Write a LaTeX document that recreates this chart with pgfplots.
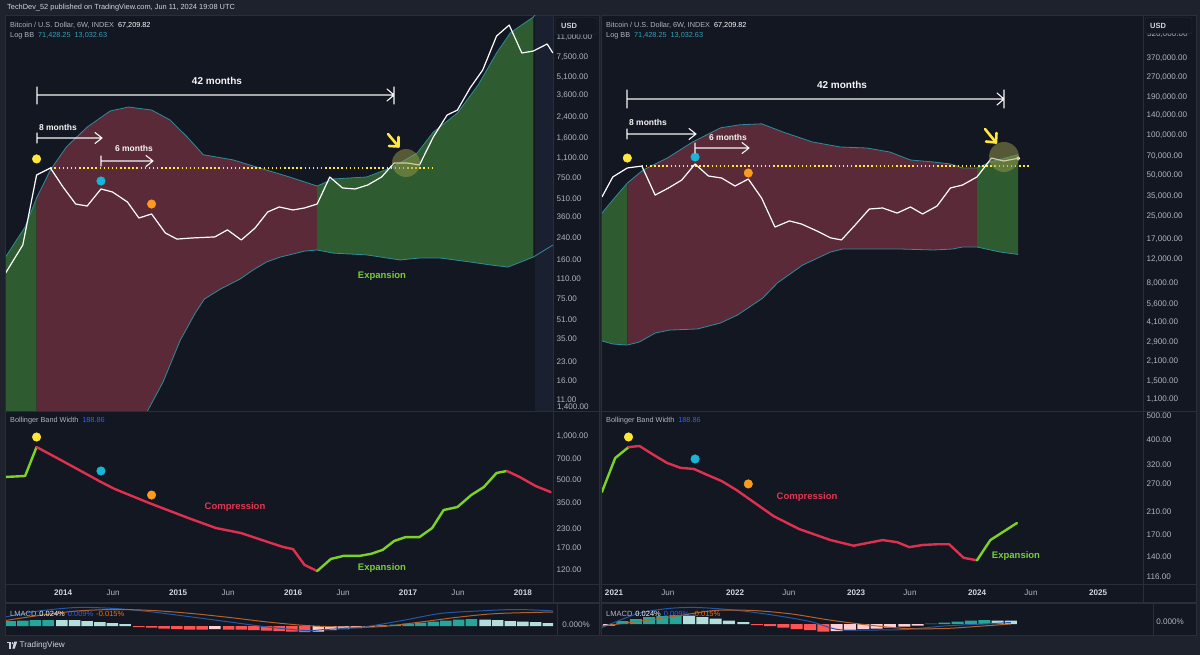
\documentclass[border=0pt]{standalone}
\usepackage{pgfplots}
\pgfplotsset{compat=1.18}
\usepackage{fontspec}
\setmainfont{Liberation Sans}

\definecolor{tvpage}{HTML}{1E222D}
\definecolor{tvbg}{HTML}{131722}
\definecolor{tvborder}{HTML}{2A2E39}
\definecolor{tvtext}{HTML}{B2B5BE}
\definecolor{tvwhite}{HTML}{D1D4DC}
\definecolor{tvteal}{HTML}{2AA3B8}
\definecolor{tvblue}{HTML}{2962FF}
\definecolor{tvorange}{HTML}{FF6D00}
\definecolor{bandline}{HTML}{2F8C9C}
\definecolor{greenfill}{HTML}{2E5B30}
\definecolor{redfill}{HTML}{5A2A38}
\definecolor{bbwgreen}{HTML}{7ED321}
\definecolor{bbwred}{HTML}{E0304F}
\definecolor{txtgreen}{HTML}{74CE3A}
\definecolor{txtred}{HTML}{E23650}
\definecolor{dotyellow}{HTML}{FFE83B}
\definecolor{dotcyan}{HTML}{17B5D6}
\definecolor{dotorange}{HTML}{FF9A1E}
\definecolor{hteal}{HTML}{26A69A}
\definecolor{hlteal}{HTML}{B2DFDB}
\definecolor{hred}{HTML}{FF5252}
\definecolor{hpink}{HTML}{FFCDD2}
\definecolor{macdblue}{HTML}{2358A8}
\definecolor{macdorange}{HTML}{B5622B}
\definecolor{circlefill}{HTML}{9A9A4A}
\definecolor{strip}{HTML}{1A2030}

\newcommand{\fs}[1]{\fontsize{#1}{#1}\selectfont}

\pgfplotsset{
  tv/.style={scale only axis, anchor=north west, axis line style={draw=none},
    major tick length=0pt, minor tick length=0pt, tick style={draw=none},
    xtick=\empty, clip=true, yticklabel pos=right,
    yticklabel style={anchor=west, inner sep=0pt, xshift=3.5pt, font={\fs{8.1}}, text=tvtext},
    xticklabel style={anchor=center, inner sep=0pt, yshift=-9pt, font={\fs{8.1}}, text=tvtext}},
  dot/.style={only marks, mark=*, mark size=4.3pt, #1, mark options={draw=none, fill=#1}},
  bbw/.style={#1, line width=2.4pt, line join=round, line cap=round},
  hist/.style={ybar, bar width=#1, bar shift=0pt, draw=none},
  area/.style={fill=#1, draw=none},
}

\begin{document}
\begin{tikzpicture}
\useasboundingbox (0,0) rectangle (1200pt,-655pt);
\fill[tvpage] (0,0) rectangle (1200pt,-655pt);
\begin{scope}[x=1pt,y=-1pt]
  \fill[tvbg] (5,15.5) rectangle (599,635);
  \fill[tvbg] (601,15.5) rectangle (1196,635);
  \fill[strip] (535,16) rectangle (553,411);
  \draw[tvborder, line width=1pt] (5,15.5) rectangle (599,635);
  \draw[tvborder, line width=1pt] (601,15.5) rectangle (1196,635);
  \foreach \y in {411.5,584,602.5,603.5} {
    \draw[tvborder, line width=1pt] (5,\y) -- (599,\y);
    \draw[tvborder, line width=1pt] (601,\y) -- (1196,\y);
  }
  \draw[tvborder, line width=1pt] (553.5,15.5) -- (553.5,602);
  \draw[tvborder, line width=1pt] (557.5,604) -- (557.5,635);
  \draw[tvborder, line width=1pt] (1143.5,15.5) -- (1143.5,602);
  \draw[tvborder, line width=1pt] (1153.5,604) -- (1153.5,635);
\end{scope}

% ---------------- left main pane (2013-2018) ----------------
\begin{axis}[tv, at={(6pt,-16pt)}, width=547pt, height=395pt,
  xmin=2013.504, xmax=2018.261, ymode=log, ymin=8.92, ymax=16400,
  ytick={11,16,23,35,51,75,110,160,240,360,510,750,1100,1600,2400,3600,5100,7500,11000},
  yticklabels={{11.00},{16.00},{23.00},{35.00},{51.00},{75.00},{110.00},{160.00},{240.00},{360.00},{510.00},{750.00},{1,100.00},{1,600.00},{2,400.00},{3,600.00},{5,100.00},{7,500.00},{11,000.00}}]
% band areas: upper band forward, lower band back
\addplot[area=greenfill] coordinates {
  (2013.50,167) (2013.67,296) (2013.77,514) (2013.77,0.3) (2013.50,0.3)};
\addplot[area=redfill] coordinates {
  (2013.77,514) (2013.89,875) (2014.03,1360) (2014.21,1980) (2014.41,2690) (2014.57,2900)
  (2014.77,2740) (2014.93,2270) (2015.08,1640) (2015.22,1170) (2015.48,1060) (2015.71,909)
  (2015.97,766) (2016.21,645)
  (2016.21,191) (2016.10,187) (2016.00,177) (2015.89,167) (2015.77,152) (2015.65,130)
  (2015.54,110) (2015.37,90.9) (2015.23,75.2) (2015.15,57.6) (2015.02,34.4) (2014.87,15.5)
  (2014.73,8.75) (2014.58,4.76) (2014.41,2.40) (2014.23,1.12) (2013.97,0.36) (2013.77,0.3)};
\addplot[area=greenfill] coordinates {
  (2016.21,645) (2016.35,738) (2016.64,766) (2016.87,927) (2017.08,1210) (2017.22,1800)
  (2017.43,2590) (2017.61,4410) (2017.77,8110) (2017.89,11900) (2018.09,16100)
  (2018.09,167) (2017.87,138) (2017.71,144) (2017.54,152) (2017.28,164) (2017.10,164)
  (2016.93,158) (2016.64,174) (2016.35,180) (2016.21,191)};
\addplot[bandline, line width=0.8pt] coordinates {
  (2013.50,167) (2013.67,296) (2013.77,514) (2013.89,875) (2014.03,1360) (2014.21,1980)
  (2014.41,2690) (2014.57,2900) (2014.77,2740) (2014.93,2270) (2015.08,1640) (2015.22,1170)
  (2015.48,1060) (2015.71,909) (2015.97,766) (2016.21,645) (2016.35,738) (2016.64,766)
  (2016.87,927) (2017.08,1210) (2017.22,1800) (2017.43,2590) (2017.61,4410) (2017.77,8110)
  (2017.89,11900) (2018.09,16100) (2018.26,25000)};
\addplot[bandline, line width=0.8pt] coordinates {
  (2013.50,0.3) (2013.77,0.3) (2013.97,0.36) (2014.23,1.12) (2014.41,2.40) (2014.58,4.76)
  (2014.73,8.75) (2014.87,15.5) (2015.02,34.4) (2015.15,57.6) (2015.23,75.2) (2015.37,90.9)
  (2015.54,110) (2015.65,130) (2015.77,152) (2015.89,167) (2016.00,177) (2016.10,187)
  (2016.21,191) (2016.35,180) (2016.64,174) (2016.93,158) (2017.10,164) (2017.28,164)
  (2017.54,152) (2017.71,144) (2017.87,138) (2018.09,167) (2018.26,210)};
\addplot[dotyellow, line width=1.5pt, dash pattern=on 1.5pt off 2.6pt] coordinates {(2013.89,909) (2017.22,909)};
\addplot[white, line width=1.2pt, line join=round] coordinates {
  (2013.50,123) (2013.65,210) (2013.77,796) (2013.89,909) (2014.00,633) (2014.11,458)
  (2014.21,441) (2014.33,610) (2014.43,576) (2014.56,476) (2014.66,351) (2014.77,379)
  (2014.89,264) (2014.99,235) (2015.12,240) (2015.32,245) (2015.43,280) (2015.55,231)
  (2015.67,290) (2015.78,394) (2015.88,433) (2016.00,409) (2016.10,425) (2016.21,458)
  (2016.32,766) (2016.43,622) (2016.54,610) (2016.65,658) (2016.77,766) (2016.88,1000)
  (2016.99,1000) (2017.10,963) (2017.22,1640) (2017.34,2490) (2017.43,2740) (2017.54,4170)
  (2017.65,5870) (2017.77,11200) (2017.88,13800) (2017.99,8110) (2018.09,8420) (2018.21,9630)
  (2018.26,8110)};
\addplot[dot=dotyellow] coordinates {(2013.77,1080)};
\addplot[dot=dotcyan] coordinates {(2014.33,710)};
\addplot[dot=dotorange] coordinates {(2014.77,458)};
\end{axis}

% ---------------- right main pane (2021-2025) ----------------
\begin{axis}[tv, at={(602pt,-16pt)}, width=541pt, height=395pt,
  xmin=2020.9008, xmax=2025.3719, ymode=log, ymin=902.8, ymax=761300,
  ytick={1100,1500,2100,2900,4100,5600,8000,12000,17000,25000,35000,50000,70000,100000,140000,190000,270000,370000},
  yticklabels={{1,100.00},{1,500.00},{2,100.00},{2,900.00},{4,100.00},{5,600.00},{8,000.00},{12,000.00},{17,000.00},{25,000.00},{35,000.00},{50,000.00},{70,000.00},{100,000.00},{140,000.00},{190,000.00},{270,000.00},{370,000.00}}]
\addplot[area=greenfill] coordinates {
  (2020.90,26400) (2020.99,33000) (2021.11,44100) (2021.11,2780) (2020.99,2830) (2020.90,2980)};
\addplot[area=redfill] coordinates {
  (2021.11,44100) (2021.24,55000) (2021.44,67500) (2021.65,88800) (2021.88,113000)
  (2022.04,119000) (2022.22,121000) (2022.40,105000) (2022.64,88800) (2022.87,81500)
  (2023.09,80100) (2023.28,74800) (2023.45,65300) (2023.64,63100) (2023.78,61000)
  (2023.88,57000) (2024.00,57000)
  (2024.00,14800) (2023.88,14800) (2023.80,14310) (2023.64,14070) (2023.36,14310)
  (2023.09,14310) (2022.89,14310) (2022.79,13590) (2022.56,10890) (2022.35,8010)
  (2022.23,6200) (2022.12,5320) (2022.02,4640) (2021.88,4050) (2021.69,3660) (2021.46,3590)
  (2021.34,3410) (2021.21,2930) (2021.11,2780)};
\addplot[area=greenfill] coordinates {
  (2024.00,57000) (2024.11,63100) (2024.34,71430) (2024.34,13030) (2024.19,13590) (2024.00,14800)};
\addplot[bandline, line width=0.8pt] coordinates {
  (2020.90,26400) (2020.99,33000) (2021.11,44100) (2021.24,55000) (2021.44,67500)
  (2021.65,88800) (2021.88,113000) (2022.04,119000) (2022.22,121000) (2022.40,105000)
  (2022.64,88800) (2022.87,81500) (2023.09,80100) (2023.28,74800) (2023.45,65300)
  (2023.64,63100) (2023.78,61000) (2023.88,57000) (2024.00,57000) (2024.11,63100)
  (2024.34,71430)};
\addplot[bandline, line width=0.8pt] coordinates {
  (2020.90,2980) (2020.99,2830) (2021.11,2780) (2021.21,2930) (2021.34,3410) (2021.46,3590)
  (2021.69,3660) (2021.88,4050) (2022.02,4640) (2022.12,5320) (2022.23,6200) (2022.35,8010)
  (2022.56,10890) (2022.79,13590) (2022.89,14310) (2023.09,14310) (2023.36,14310)
  (2023.64,14070) (2023.80,14310) (2023.88,14800) (2024.00,14800) (2024.19,13590)
  (2024.34,13030)};
\addplot[dotyellow, line width=1.5pt, dash pattern=on 1.5pt off 2.6pt] coordinates {(2021.23,58900) (2024.44,58900)};
\addplot[white, line width=1.2pt, line join=round] coordinates {
  (2020.90,34700) (2020.99,48900) (2021.11,57000) (2021.23,58900) (2021.34,35900)
  (2021.45,40500) (2021.56,46400) (2021.67,61000) (2021.78,49700) (2021.89,48000)
  (2022.00,41900) (2022.11,47200) (2022.22,34100) (2022.33,20800) (2022.45,23100)
  (2022.55,21900) (2022.68,19400) (2022.79,17300) (2022.88,16700) (2023.00,21900)
  (2023.11,28300) (2023.22,28800) (2023.34,26400) (2023.45,29300) (2023.55,26000)
  (2023.67,29800) (2023.78,40500) (2023.88,42600) (2024.00,48900) (2024.12,67500)
  (2024.22,64200) (2024.34,67210)};
\addplot[only marks, mark=*, mark size=1.8pt, white] coordinates {(2024.34,67210)};
\addplot[dot=dotyellow] coordinates {(2021.11,67500)};
\addplot[dot=dotcyan] coordinates {(2021.67,68700)};
\addplot[dot=dotorange] coordinates {(2022.11,52300)};
\end{axis}

% ---------------- left Bollinger Band Width ----------------
\begin{axis}[tv, at={(6pt,-412pt)}, width=547pt, height=172pt,
  xmin=2013.504, xmax=2018.261, ymode=log, ymin=96.12, ymax=1462,
  ytick={120,170,230,350,500,700,1000},
  yticklabels={{120.00},{170.00},{230.00},{350.00},{500.00},{700.00},{1,000.00}},
  xtick={2014,2014.435,2015,2015.435,2016,2016.435,2017,2017.435,2018},
  xticklabels={\textcolor{tvwhite}{\bfseries 2014},Jun,\textcolor{tvwhite}{\bfseries 2015},Jun,\textcolor{tvwhite}{\bfseries 2016},Jun,\textcolor{tvwhite}{\bfseries 2017},Jun,\textcolor{tvwhite}{\bfseries 2018}}]
\addplot[bbw=bbwgreen] coordinates {(2013.50,523) (2013.67,531) (2013.77,840)};
\addplot[bbw=bbwred] coordinates {(2013.77,840) (2013.98,684) (2014.33,483) (2014.45,432)
  (2014.75,346) (2015.09,273) (2015.33,233) (2015.55,215) (2015.78,187) (2015.91,173)
  (2016.00,167) (2016.10,130) (2016.21,118)};
\addplot[bbw=bbwgreen] coordinates {(2016.21,118) (2016.33,143) (2016.44,150) (2016.58,150)
  (2016.68,155) (2016.78,165) (2016.88,190) (2016.98,202) (2017.10,202) (2017.21,233)
  (2017.31,310) (2017.43,325) (2017.55,393) (2017.66,446) (2017.77,557) (2017.86,575)};
\addplot[bbw=bbwred] coordinates {(2017.86,575) (2017.97,523) (2018.11,453) (2018.24,412)};
\addplot[dot=dotyellow] coordinates {(2013.77,984)};
\addplot[dot=dotcyan] coordinates {(2014.33,575)};
\addplot[dot=dotorange] coordinates {(2014.77,393)};
\end{axis}

% ---------------- right Bollinger Band Width ----------------
\begin{axis}[tv, at={(602pt,-412pt)}, width=541pt, height=172pt,
  xmin=2020.9008, xmax=2025.3719, ymode=log, ymin=108.97, ymax=515.1,
  ytick={116,140,170,210,270,320,400,500},
  yticklabels={{116.00},{140.00},{170.00},{210.00},{270.00},{320.00},{400.00},{500.00}},
  xtick={2021,2021.446,2022,2022.446,2023,2023.446,2024,2024.446,2025},
  xticklabels={\textcolor{tvwhite}{\bfseries 2021},Jun,\textcolor{tvwhite}{\bfseries 2022},Jun,\textcolor{tvwhite}{\bfseries 2023},Jun,\textcolor{tvwhite}{\bfseries 2024},Jun,\textcolor{tvwhite}{\bfseries 2025}}]
\addplot[bbw=bbwgreen] coordinates {(2020.90,250) (2021.01,340) (2021.12,375)};
\addplot[bbw=bbwred] coordinates {(2021.12,375) (2021.21,379) (2021.33,349) (2021.44,325)
  (2021.55,311) (2021.66,308) (2021.77,292) (2021.89,276) (2022.01,255) (2022.15,229)
  (2022.32,201) (2022.53,179) (2022.79,162) (2022.98,154) (2023.10,158) (2023.22,162)
  (2023.34,159) (2023.44,152) (2023.55,155) (2023.67,156) (2023.77,156) (2023.89,138)
  (2024.00,135)};
\addplot[bbw=bbwgreen] coordinates {(2024.00,135) (2024.11,162) (2024.33,189)};
\addplot[dot=dotyellow] coordinates {(2021.12,411)};
\addplot[dot=dotcyan] coordinates {(2021.67,337)};
\addplot[dot=dotorange] coordinates {(2022.11,269)};
\end{axis}

% ---------------- left LMACD ----------------
\begin{axis}[tv, at={(6pt,-604pt)}, width=547pt, height=30pt,
  xmin=2013.504, xmax=2018.261, ymin=-0.016, ymax=0.044, ytick=\empty]
\addplot[hist=11.5pt, fill=hteal] coordinates {(2013.54,0.010) (2013.65,0.011) (2013.76,0.012)
  (2013.87,0.012) (2016.77,0.002) (2016.89,0.003) (2017.00,0.005) (2017.11,0.007)
  (2017.22,0.009) (2017.33,0.011) (2017.44,0.013) (2017.55,0.014)};
\addplot[hist=11.5pt, fill=hlteal] coordinates {(2013.99,0.012) (2014.10,0.012) (2014.21,0.010)
  (2014.32,0.008) (2014.43,0.006) (2014.54,0.004) (2017.67,0.013) (2017.78,0.012)
  (2017.89,0.010) (2018.00,0.009) (2018.11,0.008) (2018.22,0.006)};
\addplot[hist=11.5pt, fill=hred] coordinates {(2014.66,-0.002) (2014.77,-0.003) (2014.88,-0.005)
  (2014.99,-0.006) (2015.10,-0.007) (2015.21,-0.007) (2015.44,-0.007) (2015.55,-0.007)
  (2015.66,-0.008) (2015.77,-0.009) (2015.88,-0.010) (2015.99,-0.011) (2016.10,-0.012)};
\addplot[hist=11.5pt, fill=hpink] coordinates {(2015.32,-0.006) (2016.22,-0.011) (2016.33,-0.008)
  (2016.44,-0.006) (2016.55,-0.004) (2016.66,-0.002)};
\addplot[macdblue, line width=1pt, smooth] coordinates {(2013.50,0.018) (2013.79,0.030)
  (2014.12,0.037) (2014.45,0.035) (2014.78,0.028) (2015.12,0.018) (2015.45,0.008)
  (2015.78,-0.002) (2016.11,-0.009) (2016.28,-0.007) (2016.61,-0.002) (2016.95,0.011)
  (2017.28,0.025) (2017.61,0.030) (2017.94,0.033) (2018.28,0.030)};
\addplot[macdorange, line width=1pt, smooth] coordinates {(2013.50,0.011) (2013.79,0.021)
  (2014.12,0.030) (2014.45,0.033) (2014.78,0.031) (2015.12,0.025) (2015.45,0.017)
  (2015.78,0.008) (2016.11,0.001) (2016.45,-0.002) (2016.78,-0.001) (2017.11,0.008)
  (2017.45,0.018) (2017.78,0.025) (2018.28,0.028)};
\end{axis}

% ---------------- right LMACD ----------------
\begin{axis}[tv, at={(602pt,-604pt)}, width=541pt, height=30pt,
  xmin=2020.9008, xmax=2025.3719, ymin=-0.02, ymax=0.04, ytick=\empty]
\addplot[hist=12pt, fill=hteal] coordinates {(2021.07,0.006) (2021.18,0.010) (2021.29,0.014)
  (2021.40,0.016) (2021.51,0.018) (2023.62,0.001) (2023.73,0.003) (2023.84,0.005)
  (2023.95,0.007) (2024.06,0.008)};
\addplot[hist=12pt, fill=hlteal] coordinates {(2021.62,0.017) (2021.73,0.014) (2021.84,0.011)
  (2021.95,0.007) (2022.07,0.004) (2024.17,0.007) (2024.28,0.007)};
\addplot[hist=12pt, fill=hred] coordinates {(2022.18,-0.002) (2022.29,-0.004) (2022.40,-0.007)
  (2022.51,-0.010) (2022.62,-0.012) (2022.73,-0.015)};
\addplot[hist=12pt, fill=hpink] coordinates {(2020.96,-0.003) (2022.84,-0.014) (2022.95,-0.012)
  (2023.06,-0.010) (2023.17,-0.009) (2023.28,-0.007) (2023.40,-0.005) (2023.51,-0.003)};
\addplot[macdblue, line width=1pt, smooth] coordinates {(2020.90,-0.007) (2021.20,0.021)
  (2021.45,0.031) (2021.68,0.033) (2021.99,0.028) (2022.31,0.018) (2022.62,0.005)
  (2022.85,-0.011) (2023.10,-0.012) (2023.41,-0.011) (2023.73,-0.004) (2024.05,0.000)
  (2024.28,0.003)};
\addplot[macdorange, line width=1pt, smooth] coordinates {(2020.90,-0.004) (2021.20,0.005)
  (2021.52,0.016) (2021.83,0.027) (2022.15,0.027) (2022.47,0.020) (2022.78,0.008)
  (2023.10,-0.002) (2023.41,-0.009) (2023.73,-0.009) (2024.05,-0.004) (2024.28,0.000)};
\end{axis}

% ---------------- annotations and text ----------------
\begin{scope}[x=1pt,y=-1pt]
  \fill[circlefill, opacity=0.5] (406,163) circle (14);
  \fill[circlefill, opacity=0.5] (1004,157) circle (15);
  \begin{scope}[dotyellow, line width=2.6pt, line cap=round, line join=round]
    \draw (388,134) -- (398.5,146.5);
    \draw (389,146) -- (398.5,146.5) -- (398.5,137);
    \draw (985,129) -- (996,142.5);
    \draw (986,141.5) -- (996,142.5) -- (996.5,133);
  \end{scope}
  \begin{scope}[white!92!gray, line width=1.1pt, line cap=round, line join=round]
    \draw (37,87) -- (37,104) (37,95) -- (394,95) (387,89) -- (394,95) -- (387,101) (394,87) -- (394,104);
    \draw (37,133) -- (37,143) (37,138) -- (102,138) (95,132.5) -- (102,138) -- (95,143.5);
    \draw (101,156) -- (101,166) (101,161) -- (153,161) (146,155.5) -- (153,161) -- (146,166.5);
    \draw (627,90) -- (627,108) (627,99) -- (1004,99) (997,93) -- (1004,99) -- (997,105) (1004,90) -- (1004,108);
    \draw (627,129) -- (627,139) (627,134) -- (696,134) (689,128.5) -- (696,134) -- (689,139.5);
    \draw (695,143) -- (695,153) (695,148) -- (749,148) (742,142.5) -- (749,148) -- (742,153.5);
    \node[font={\fs{10}\bfseries}] at (217,81) {42 months};
    \node[font={\fs{8.5}\bfseries}] at (58,127) {8 months};
    \node[font={\fs{8.5}\bfseries}] at (134,148) {6 months};
    \node[font={\fs{10}\bfseries}] at (842,85) {42 months};
    \node[font={\fs{8.5}\bfseries}] at (648,122) {8 months};
    \node[font={\fs{8.5}\bfseries}] at (728,137) {6 months};
  \end{scope}
  \node[font={\fs{9.5}\bfseries}, text=txtgreen] at (382,276) {Expansion};
  \node[font={\fs{9.5}\bfseries}, text=txtred] at (235,507) {Compression};
  \node[font={\fs{9.5}\bfseries}, text=txtgreen] at (382,568) {Expansion};
  \node[font={\fs{9.5}\bfseries}, text=txtred] at (807,497) {Compression};
  \node[font={\fs{9.5}\bfseries}, text=txtgreen] at (1016,556) {Expansion};
  \node[anchor=west, inner sep=0pt, font={\fs{7.4}}, text=tvwhite] at (7,8) {TechDev\_52 published on TradingView.com, Jun 11, 2024 19:08 UTC};
  \foreach \x in {10,606} {
    \node[anchor=west, inner sep=0pt, font={\fs{7.3}}, text=tvtext] at (\x,25) {Bitcoin / U.S. Dollar, 6W, INDEX\hspace{4pt}\textcolor{white}{67,209.82}};
    \node[anchor=west, inner sep=0pt, font={\fs{7.3}}, text=tvtext] at (\x,36) {Log BB\hspace{4pt}\textcolor{tvteal}{71,428.25\hspace{4pt}13,032.63}};
    \node[anchor=west, inner sep=0pt, font={\fs{7.3}}, text=tvtext] at (\x,421) {Bollinger Band Width\hspace{4pt}\textcolor{tvblue}{188.86}};
    \node[anchor=west, inner sep=0pt, font={\fs{7.5}}, text=tvtext] at (\x,614) {LMACD\hspace{3pt}\textcolor{white}{0.024\%}\hspace{3pt}\textcolor{tvblue}{0.009\%}\hspace{3pt}\textcolor{tvorange}{-0.015\%}};
  }
  \node[anchor=west, inner sep=0pt, font={\fs{8.1}}, text=tvtext] at (1147,34) {520,000.00};
  \node[anchor=west, inner sep=0pt, font={\fs{8.1}}, text=tvtext] at (557,407) {1,400.00};
  \node[font={\fs{8.1}}, text=tvtext] at (576,625) {0.000\%};
  \node[font={\fs{8.1}}, text=tvtext] at (1170,622) {0.000\%};
  \draw[tvborder, fill=tvbg, rounded corners=2pt] (555.5,17.5) rectangle (597,34.5);
  \node[anchor=west, inner sep=0pt, font={\fs{7.5}\bfseries}, text=tvwhite] at (561,26) {USD};
  \draw[tvborder, fill=tvbg, rounded corners=2pt] (1145,17.5) rectangle (1192,33.5);
  \node[anchor=west, inner sep=0pt, font={\fs{7.5}\bfseries}, text=tvwhite] at (1150,25.5) {USD};
  \fill[tvwhite] (6.5,641.5) rectangle (11.2,643.3);
  \fill[tvwhite] (9.4,641.5) rectangle (11.2,648.5);
  \fill[tvwhite] (12.6,643.2) circle (1.1);
  \fill[tvwhite] (14.2,641.5) -- (17.2,641.5) -- (14.8,648.5) -- (12.4,648.5) -- cycle;
  \node[anchor=west, inner sep=0pt, font={\fs{8.2}}, text=tvwhite] at (19.5,645) {TradingView};
\end{scope}
\end{tikzpicture}
\end{document}
